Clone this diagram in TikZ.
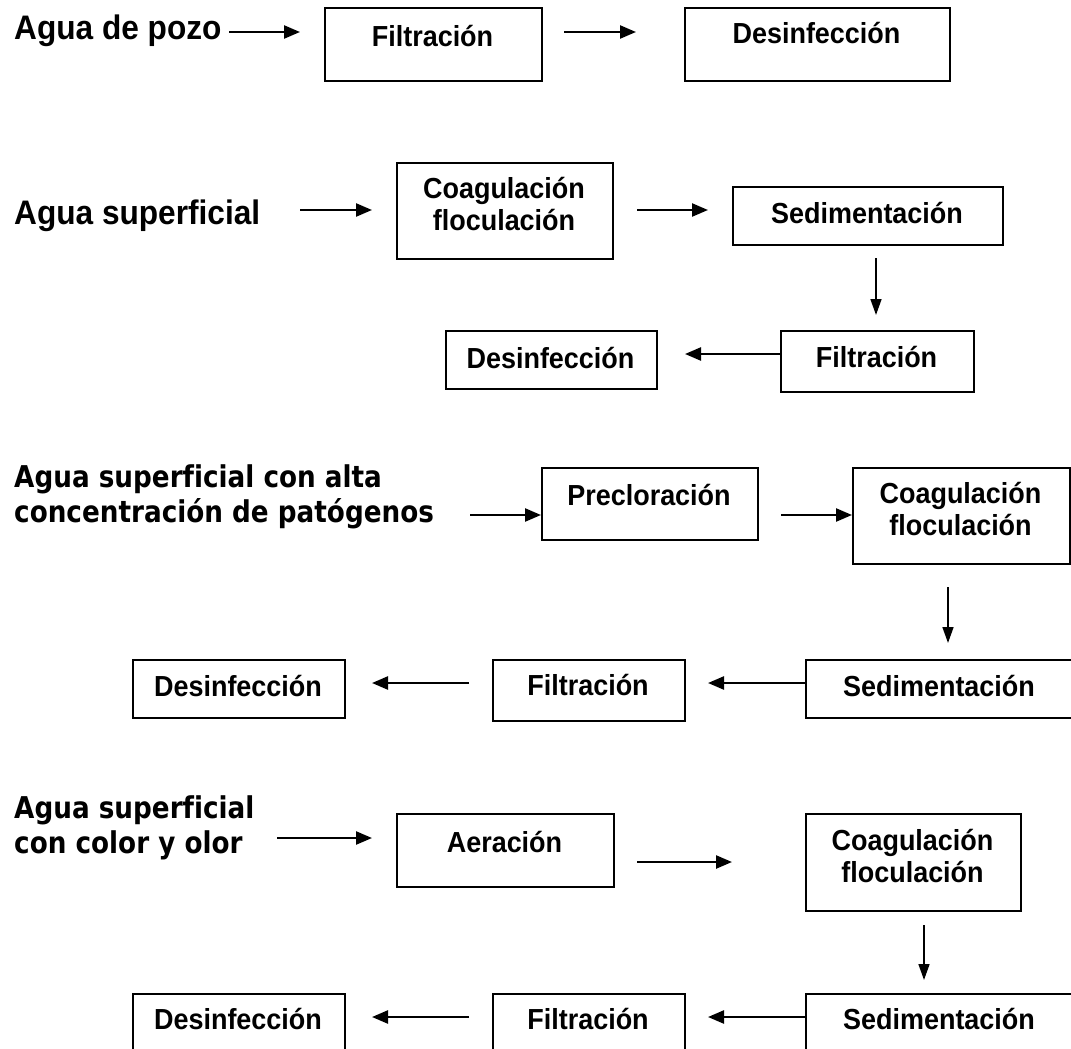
\documentclass[tikz,border=0pt]{standalone}
\usepackage{fontspec}
\setmainfont{Liberation Sans}
\newfontfamily\arl[FakeStretch=0.93,Ligatures={NoCommon}]{Liberation Sans}
\newfontfamily\tah[FakeStretch=0.875,Ligatures={NoCommon}]{DejaVu Sans}
\usetikzlibrary{arrows.meta}
\begin{document}
\begin{tikzpicture}[x=1pt,y=-1pt,
  box/.style={draw, line width=2pt, rectangle, anchor=north west, inner sep=0pt},
  btxt/.style={anchor=base, inner sep=0pt, font=\arl\bfseries\fontsize{29}{33}\selectfont},
  htxt/.style={anchor=base west, inner sep=0pt, font=\arl\bfseries\fontsize{34}{38}\selectfont},
  ttxt/.style={anchor=base west, inner sep=0pt, font=\tah\bfseries\fontsize{30}{35}\selectfont},
  arr/.style={line width=2.4pt, -{Triangle[length=16pt,width=13pt]}},
  darr/.style={line width=1.6pt, -{Triangle[length=16pt,width=11pt]}}
]
\useasboundingbox (0,0) rectangle (1071,1049);
\clip (0,0) rectangle (1071,1049);

% ---------- Row 1 ----------
\node[htxt] (L1) at (14,40) {Agua de pozo};
\node[box, minimum width=217pt, minimum height=73pt] (F1) at (324,7) {};
\node[btxt] (F1t) at (432.5,47) {Filtración};
\node[box, minimum width=265pt, minimum height=73pt] (D1) at (684,7) {};
\node[btxt] (D1t) at (816.5,44) {Desinfección};
\coordinate (a1s) at (229,32); \coordinate (a1e) at (300,32);
\coordinate (a2s) at (564,32); \coordinate (a2e) at (636,32);
\draw[arr] (a1s) -- (a1e);
\draw[arr] (a2s) -- (a2e);

% ---------- Row 2 ----------
\node[htxt] (L2) at (14,224) {Agua superficial};
\node[box, minimum width=216pt, minimum height=96pt] (C2) at (396,162) {};
\node[btxt] (C2a) at (504,198) {Coagulación};
\node[btxt] (C2b) at (504,230) {floculación};
\node[box, minimum width=270pt, minimum height=58pt] (S2) at (732,186) {};
\node[btxt] (S2t) at (867,223) {Sedimentación};
\node[box, minimum width=193pt, minimum height=61pt] (F2) at (780,330) {};
\node[btxt] (F2t) at (876.5,367) {Filtración};
\node[box, minimum width=211pt, minimum height=58pt] (D2) at (445,330) {};
\node[btxt] (D2t) at (550.5,368) {Desinfección};
\coordinate (b1s) at (300,210); \coordinate (b1e) at (372,210);
\coordinate (b2s) at (637,210); \coordinate (b2e) at (708,210);
\coordinate (b3s) at (876,258); \coordinate (b3e) at (876,315);
\coordinate (b4e) at (685,354);
\draw[arr] (b1s) -- (b1e);
\draw[arr] (b2s) -- (b2e);
\draw[darr] (b3s) -- (b3e);
\draw[arr] (F2.west |- b4e) -- (b4e);

% ---------- Row 3 ----------
\node[ttxt] (L3a) at (14,487) {Agua superficial con alta};
\node[ttxt] (L3b) at (14,522) {concentración de patógenos};
\node[box, minimum width=216pt, minimum height=72pt] (P3) at (541,467) {};
\node[btxt] (P3t) at (649,505) {Precloración};
\node[box, minimum width=217pt, minimum height=96pt] (C3) at (852,467) {};
\node[btxt] (C3a) at (960.5,503) {Coagulación};
\node[btxt] (C3b) at (960.5,535) {floculación};
\node[box, minimum width=268pt, minimum height=58pt] (S3) at (805,659) {};
\node[btxt] (S3t) at (939,696) {Sedimentación};
\node[box, minimum width=192pt, minimum height=61pt] (F3) at (492,659) {};
\node[btxt] (F3t) at (588,695) {Filtración};
\node[box, minimum width=212pt, minimum height=58pt] (D3) at (132,659) {};
\node[btxt] (D3t) at (238,696) {Desinfección};
\coordinate (c1s) at (470,515);
\coordinate (c2s) at (781,515);
\coordinate (c3s) at (948,587); \coordinate (c3e) at (948,643);
\coordinate (c4e) at (708,683);
\coordinate (c5s) at (469,683); \coordinate (c5e) at (372,683);
\draw[arr] (c1s) -- (P3.west |- c1s);
\draw[arr] (c2s) -- (C3.west |- c2s);
\draw[darr] (c3s) -- (c3e);
\draw[arr] (S3.west |- c4e) -- (c4e);
\draw[arr] (c5s) -- (c5e);

% ---------- Row 4 ----------
\node[ttxt] (L4a) at (14,818) {Agua superficial};
\node[ttxt] (L4b) at (14,853) {con color y olor};
\node[box, minimum width=217pt, minimum height=73pt] (A4) at (396,813) {};
\node[btxt] (A4t) at (504.5,852) {Aeración};
\node[box, minimum width=215pt, minimum height=97pt] (C4) at (805,813) {};
\node[btxt] (C4a) at (912.5,850) {Coagulación};
\node[btxt] (C4b) at (912.5,882) {floculación};
\node[box, minimum width=268pt, minimum height=80pt] (S4) at (805,993) {};
\node[btxt] (S4t) at (939,1029) {Sedimentación};
\node[box, minimum width=192pt, minimum height=80pt] (F4) at (492,993) {};
\node[btxt] (F4t) at (588,1029) {Filtración};
\node[box, minimum width=212pt, minimum height=80pt] (D4) at (132,993) {};
\node[btxt] (D4t) at (238,1029) {Desinfección};
\coordinate (d1s) at (277,838); \coordinate (d1e) at (372,838);
\coordinate (d2s) at (637,862); \coordinate (d2e) at (732,862);
\coordinate (d3s) at (924,925); \coordinate (d3e) at (924,980);
\coordinate (d4e) at (708,1017);
\coordinate (d5s) at (469,1017); \coordinate (d5e) at (372,1017);
\draw[arr] (d1s) -- (d1e);
\draw[arr] (d2s) -- (d2e);
\draw[darr] (d3s) -- (d3e);
\draw[arr] (S4.west |- d4e) -- (d4e);
\draw[arr] (d5s) -- (d5e);
\end{tikzpicture}
\end{document}
